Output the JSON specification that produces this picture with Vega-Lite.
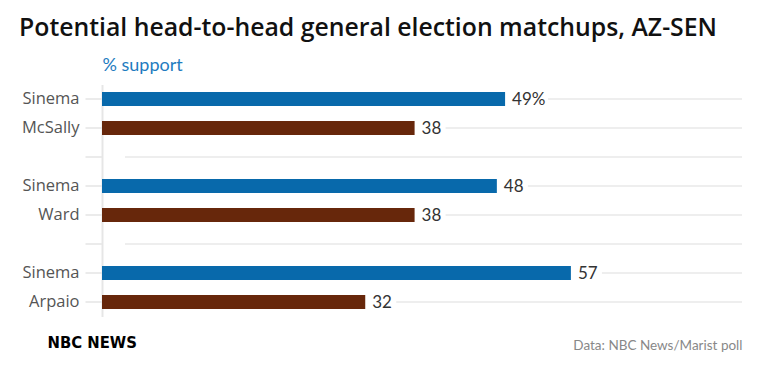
{
  "$schema": "https://vega.github.io/schema/vega-lite/v6.json",
  "width": 640,
  "height": 232,
  "autosize": {"type": "none"},
  "padding": {"left": 102, "top": 84.5, "right": 18, "bottom": 54.5},
  "background": "white",
  "config": {"view": {"stroke": null}, "font": "Lato"},
  "title": {
    "text": "Potential head-to-head general election matchups, AZ-SEN",
    "anchor": "start",
    "frame": "group",
    "dx": -83,
    "fontSize": 24.8,
    "fontWeight": 600,
    "color": "#111111",
    "font": "Open Sans",
    "offset": 16
  },
  "data": {
    "values": [
      {"row": "Sinema|1", "value": 49, "label": "49%", "party": "D"},
      {"row": "McSally|1", "value": 38, "label": "38", "party": "R"},
      {"row": "|a", "value": null, "label": "", "party": "gap"},
      {"row": "Sinema|2", "value": 48, "label": "48", "party": "D"},
      {"row": "Ward|2", "value": 38, "label": "38", "party": "R"},
      {"row": "|b", "value": null, "label": "", "party": "gap"},
      {"row": "Sinema|3", "value": 57, "label": "57", "party": "D"},
      {"row": "Arpaio|3", "value": 32, "label": "32", "party": "R"}
    ]
  },
  "encoding": {
    "y": {
      "field": "row",
      "type": "nominal",
      "sort": null,
      "scale": {
        "domain": ["Sinema|1", "McSally|1", "|a", "Sinema|2", "Ward|2", "|b", "Sinema|3", "Arpaio|3"],
        "paddingInner": 0.517,
        "paddingOuter": 0.2585
      },
      "axis": {
        "labelExpr": "split(datum.value, '|')[0]",
        "labelFont": "Open Sans",
        "labelFontSize": 16.5,
        "labelColor": "#555555",
        "labelPadding": 6,
        "tickSize": 17,
        "tickColor": "#ebebeb",
        "tickWidth": 2,
        "domainColor": "#e6e6e6",
        "domainWidth": 2,
        "grid": false,
        "title": "NBC NEWS",
        "titleAngle": 0,
        "titleAlign": "left",
        "titleBaseline": "alphabetic",
        "titleX": -55,
        "titleY": 262.5,
        "titleFont": "DejaVu Sans Condensed",
        "titleFontSize": 16.5,
        "titleFontWeight": "bold",
        "titleColor": "#000000"
      }
    }
  },
  "layer": [
    {
      "transform": [{"filter": "datum.party != 'gap' && datum.label != '49%'"}],
      "mark": {"type": "rule", "color": "#eeeeee", "strokeWidth": 2, "xOffset": 31},
      "encoding": {
        "x": {"field": "value", "type": "quantitative", "scale": {"domain": [0, 77.8], "nice": false, "zero": true}, "axis": null},
        "x2": {"datum": 77.8}
      }
    },
    {
      "transform": [{"filter": "datum.label == '49%'"}],
      "mark": {"type": "rule", "color": "#eeeeee", "strokeWidth": 2, "xOffset": 43},
      "encoding": {
        "x": {"field": "value", "type": "quantitative", "axis": null},
        "x2": {"datum": 77.8}
      }
    },
    {
      "transform": [{"filter": "datum.party == 'gap'"}],
      "mark": {"type": "rule", "color": "#eeeeee", "strokeWidth": 2, "xOffset": 23},
      "encoding": {
        "x": {"datum": 0, "type": "quantitative", "axis": null},
        "x2": {"datum": 77.8}
      }
    },
    {
      "transform": [{"filter": "datum.party != 'gap'"}],
      "mark": {"type": "bar"},
      "encoding": {
        "x": {
          "field": "value",
          "type": "quantitative",
          "axis": {
            "orient": "top",
            "labels": false,
            "ticks": false,
            "domain": false,
            "grid": false,
            "title": "% support",
            "titleAnchor": "start",
            "titleAlign": "left",
            "titleX": 0,
            "titleY": -14,
            "titleBaseline": "alphabetic",
            "titleColor": "#1f7cc0",
            "titleFont": "Lato",
            "titleFontSize": 18,
            "titleFontWeight": "normal"
          }
        },
        "color": {
          "field": "party",
          "type": "nominal",
          "scale": {"domain": ["D", "R"], "range": ["#0869ab", "#67270b"]},
          "legend": null
        }
      }
    },
    {
      "transform": [{"filter": "datum.party != 'gap'"}],
      "mark": {"type": "text", "align": "left", "baseline": "middle", "dx": 7, "dy": 1, "fontSize": 17, "color": "#333333", "font": "Lato"},
      "encoding": {
        "x": {
          "field": "value",
          "type": "quantitative",
          "axis": {
            "orient": "bottom",
            "labels": false,
            "ticks": false,
            "domain": false,
            "grid": false,
            "title": "Data: NBC News/Marist poll",
            "titleAnchor": "end",
            "titleAlign": "right",
            "titleBaseline": "alphabetic",
            "titleY": 33,
            "titleColor": "#888888",
            "titleFont": "Lato",
            "titleFontSize": 13.5,
            "titleFontWeight": "normal"
          }
        },
        "text": {"field": "label"}
      }
    }
  ],
  "resolve": {"axis": {"x": "independent"}}
}
